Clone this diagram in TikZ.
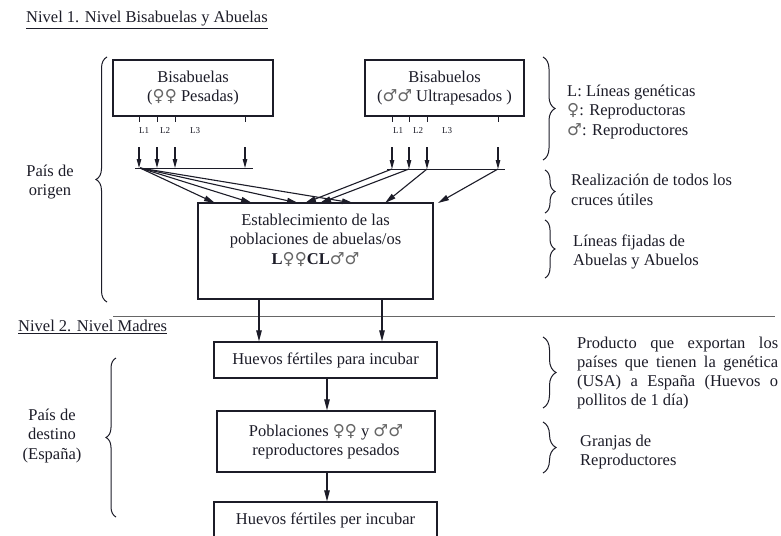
\documentclass[tikz,border=0pt]{standalone}
\usepackage{fontspec}
\setmainfont{Liberation Serif}
\newfontfamily\symf{DejaVu Sans}
\usetikzlibrary{arrows.meta,decorations.pathreplacing}
\definecolor{ink}{HTML}{1C1C28}
\newcommand{\femsym}{{\symf\color{black!60}♀}}
\newcommand{\malsym}{{\symf\color{black!60}♂}}
\begin{document}
\begin{tikzpicture}[x=1pt,y=-1pt,
  every node/.style={font=\fontsize{16.5}{19.5}\selectfont, text=ink, inner sep=0pt},
  box/.style={draw=ink, line width=1.3pt},
  con/.style={draw=ink, line width=1.1pt, -{Triangle[length=11pt,width=5.5pt]}},
  sarr/.style={draw=ink, line width=1.1pt, -{Triangle[length=9pt,width=4.5pt]}},
  tickln/.style={draw=ink, line width=1pt},
  brc/.style={draw=ink, line width=1pt, decorate, decoration={brace, amplitude=#1}},
  lab/.style={font=\fontsize{9}{10}\selectfont},
  side/.style={anchor=west, align=left},
]
\clip (0,0) rectangle (781,535);
\fill[white] (0,0) rectangle (781,535);

% titles
\node[anchor=west] (t1) at (26,20) {\underline{Nivel 1. Nivel Bisabuelas y Abuelas}};
\node[anchor=west] (t2) at (18,327) {\underline{Nivel 2. Nivel Madres}};

% top boxes
\node[box, minimum width=160pt, minimum height=56pt] (bisa) at (193,88) {};
\node[align=center] (bisat) at (bisa.center) {Bisabuelas\\(\femsym\femsym{} Pesadas)};
\node[box, minimum width=159pt, minimum height=56pt] (biso) at (444.5,88) {};
\node[align=center] (bisot) at (biso.center) {Bisabuelos\\(\malsym\malsym{} Ultrapesados )};

% ticks and small arrows, left
\foreach \x [count=\i] in {139,157,175,245} {
  \coordinate (la\i) at (\x,116);
  \coordinate (lb\i) at (\x,122);
  \coordinate (lc\i) at (\x,147);
  \coordinate (ld\i) at (\x,168);
  \draw[tickln] (la\i) -- (lb\i);
  \draw[sarr] (lc\i) -- (ld\i);
}
\foreach \x [count=\i] in {392,409,427,498} {
  \coordinate (ra\i) at (\x,116);
  \coordinate (rb\i) at (\x,122);
  \coordinate (rc\i) at (\x,147);
  \coordinate (rd\i) at (\x,169);
  \draw[tickln] (ra\i) -- (rb\i);
  \draw[sarr] (rc\i) -- (rd\i);
}
\node[lab] (ll1) at (144,131) {L1};
\node[lab] (ll2) at (165,131) {L2};
\node[lab] (ll3) at (195,131) {L3};
\node[lab] (rl1) at (398,131) {L1};
\node[lab] (rl2) at (418,131) {L2};
\node[lab] (rl3) at (447,131) {L3};

\coordinate (lh1) at (135,168); \coordinate (lh2) at (253,168);
\coordinate (rh1) at (387,169); \coordinate (rh2) at (505,169);
\draw[tickln] (lh1) -- (lh2);
\draw[tickln] (rh1) -- (rh2);

% central box
\node[box, minimum width=235pt, minimum height=96pt] (est) at (315.5,251) {};
\node[align=center] (estt) at (315.5,240) {Establecimiento de las\\poblaciones de abuelas/os\\\textbf{L}\femsym\femsym\textbf{CL}\malsym\malsym};

% fan arrows
\coordinate (fo) at (140,168);
\foreach \x [count=\i] in {215,252,298,353} {
  \coordinate (ft\i) at (\x,203);
  \draw[con] (fo) -- (ft\i);
}
\coordinate (gt1) at (305,203);
\coordinate (gt2) at (320,203);
\coordinate (gt3) at (385,203);
\coordinate (gt4) at (438,203);
\draw[con] (rd1) -- (gt1);
\draw[con] (rd2) -- (gt2);
\draw[con] (rd3) -- (gt3);
\draw[con] (rd4) -- (gt4);

% separator
\coordinate (s1) at (113,316); \coordinate (s2) at (775,316);
\draw[draw=black!60, line width=1pt] (s1) -- (s2);

% lower boxes
\node[box, minimum width=223pt, minimum height=36pt] (hf1) at (325.5,360) {Huevos fértiles para incubar};
\node[box, minimum width=218pt, minimum height=61pt, align=center] (pob) at (326,441.5) {Poblaciones \femsym\femsym{} y \malsym\malsym\\reproductores pesados};
\node[box, minimum width=223pt, minimum height=48pt] (hf2) at (325.5,526) {};
\node (hf2t) at (325.5,520) {Huevos fértiles per incubar};

\draw[con] (est.south -| 259,0) -- (hf1.north -| 259,0);
\draw[con] (est.south -| 382,0) -- (hf1.north -| 382,0);
\draw[con] (hf1.south -| 327,0) -- (pob.north -| 327,0);
\draw[con] (pob.south -| 327,0) -- (hf2.north -| 327,0);

% left braces and labels
\draw[brc=11] (107,302) -- (107,57);
\draw[brc=10] (116,517) -- (116,358);
\node[align=center] (po) at (50,182) {País de\\origen};
\node[align=center] (pd) at (52,436) {País de\\destino\\(España)};

% right braces and labels
\draw[brc=12] (543,57) -- (543,160);
\draw[brc=10] (545,170) -- (545,213);
\draw[brc=10] (545,220) -- (545,278);
\draw[brc=13] (543,337) -- (543,408);
\draw[brc=13] (543,422) -- (543,473);
\node[side] (r1) at (567,112) {L: Líneas genéticas\\\femsym: Reproductoras\\\malsym: Reproductores};
\node[side] (r2) at (571,190) {Realización de todos los\\cruces útiles};
\node[side] (r3) at (573,252) {Líneas fijadas de\\Abuelas y Abuelos};
\node[side, font=\fontsize{16.5}{19}\selectfont] (r4) at (577,373.5) {\makebox[201pt][s]{Producto que exportan los}\\\makebox[201pt][s]{países que tienen la genética}\\\makebox[201pt][s]{(USA) a España (Huevos o}\\pollitos de 1 día)};
\node[side] (r5) at (580,452) {Granjas de\\Reproductores};
\end{tikzpicture}
\end{document}
